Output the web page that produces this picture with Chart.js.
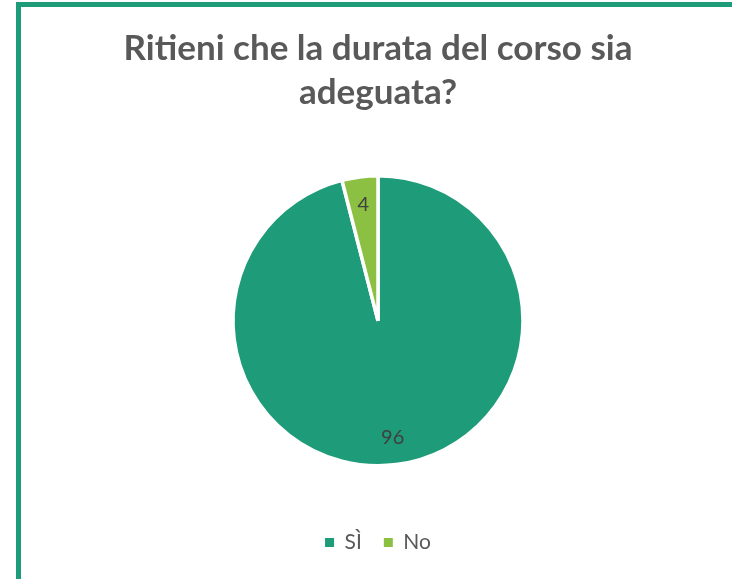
<!DOCTYPE html>
<html>
<head>
<meta charset="utf-8">
<script src="https://cdn.jsdelivr.net/npm/chart.js@4/dist/chart.umd.min.js"></script>
<style>
  html, body { margin: 0; padding: 0; background: #fff; overflow: hidden; }
  body { width: 732px; height: 579px; position: relative; }
  #frame {
    position: absolute; left: 16px; top: 2px;
    width: 740px; height: 600px;
    border: 5px solid #1E9B78; box-sizing: border-box;
  }
  #wrap { position: absolute; left: 24px; top: 0; width: 708px; height: 579px; }
</style>
</head>
<body>
<div id="frame"></div>
<div id="wrap"><canvas id="myChart"></canvas></div>
<script>
var titleLines = ['Ritieni che la durata del corso sia', 'adeguata?'];
var categories = ['SÌ', 'No'];
var values = [96, 4];
var colors = ['#1E9B78', '#8CC043'];

// numbers drawn on each slice, near the outer edge
var sliceLabels = {
    id: 'sliceLabels',
    afterDatasetsDraw: function(chart) {
        var ctx = chart.ctx;
        var meta = chart.getDatasetMeta(0);
        ctx.save();
        ctx.font = '20px Lato';
        ctx.fillStyle = '#404040';
        ctx.textAlign = 'center';
        ctx.textBaseline = 'middle';
        meta.data.forEach(function(arc, i) {
            var mid = (arc.startAngle + arc.endAngle) / 2;
            var r = arc.outerRadius * 0.81;
            ctx.fillText(values[i], arc.x + Math.cos(mid) * r, arc.y + Math.sin(mid) * r);
        });
        ctx.restore();
    }
};

var ctx = document.getElementById('myChart');
var myChart = new Chart(ctx, {
    type: 'pie',
    data: {
        labels: categories,
        datasets: [{
            data: values,
            backgroundColor: colors,
            borderColor: '#ffffff',
            borderWidth: 3.5
        }]
    },
    options: {
        responsive: true,
        maintainAspectRatio: false,
        animation: false,
        radius: 145,
        layout: { padding: { top: 12, bottom: 16 } },
        plugins: {
            title: {
                display: true,
                text: titleLines,
                color: '#595959',
                font: { family: 'Lato', size: 35, weight: 'bold', lineHeight: 1.25 },
                padding: { top: 15, bottom: 17 }
            },
            legend: {
                position: 'bottom',
                labels: {
                    color: '#595959',
                    font: { family: 'Lato', size: 21 },
                    boxWidth: 9,
                    boxHeight: 9,
                    padding: 22,
                    generateLabels: function(chart) {
                        var items = Chart.overrides.pie.plugins.legend.labels.generateLabels(chart);
                        items.forEach(function(it) { it.lineWidth = 0; });
                        return items;
                    }
                }
            },
            tooltip: { enabled: false }
        }
    },
    plugins: [sliceLabels]
});
</script>
</body>
</html>
